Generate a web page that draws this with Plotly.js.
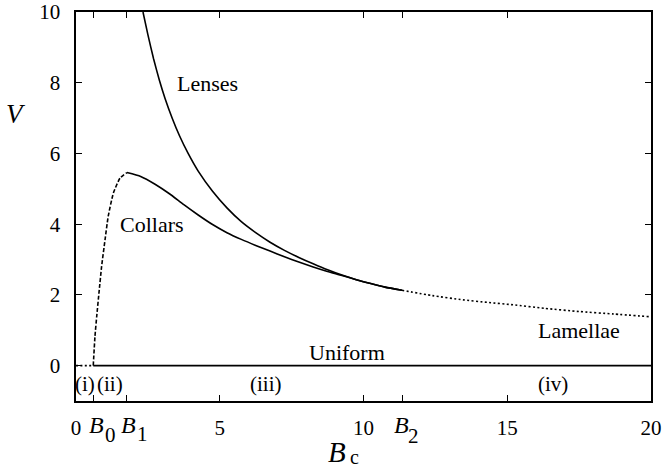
<!DOCTYPE html>
<html>
<head>
<meta charset="utf-8">
<script src="https://cdn.plot.ly/plotly-3.0.1.min.js"></script>
<style>html,body{margin:0;padding:0;background:#fff;}#chart{width:662px;height:471px;}</style>
</head>
<body>
<div id="chart"></div>
<script>
// Data
const lensesB = [2.33, 2.5, 2.7, 2.9, 3.1, 3.35, 3.6, 3.9, 4.25, 4.75, 5.25, 5.75, 6.25, 6.75, 7.25, 7.75, 8.25, 8.75, 9.25, 9.75, 10.25, 10.75, 11.34];
const lensesV = [10, 9.36, 8.67, 8.07, 7.55, 6.99, 6.5, 6.0, 5.5, 4.93, 4.46, 4.07, 3.76, 3.49, 3.26, 3.06, 2.88, 2.71, 2.56, 2.43, 2.32, 2.22, 2.13];

const collarsUnstableB = [0.6, 0.66, 0.72, 0.81, 0.89, 1.01, 1.12, 1.3, 1.53, 1.77];
const collarsUnstableV = [0, 0.83, 1.39, 2.15, 2.8, 3.56, 4.22, 4.88, 5.3, 5.46];

const collarsB = [1.77, 2.25, 2.75, 3.25, 3.75, 4.25, 4.75, 5.25, 5.75, 6.25, 6.75, 7.25, 7.75, 8.25, 8.75, 9.25, 9.75, 10.25, 10.75, 11.34];
const collarsV = [5.46, 5.35, 5.13, 4.86, 4.55, 4.26, 3.99, 3.76, 3.57, 3.4, 3.24, 3.08, 2.93, 2.79, 2.66, 2.55, 2.43, 2.32, 2.22, 2.13];

const lamellaeB = [11.34, 12.4, 13.46, 14.3, 15.2, 16.3, 17.5, 18.7, 20];
const lamellaeV = [2.13, 1.98, 1.86, 1.79, 1.72, 1.62, 1.53, 1.46, 1.38];

const uniformUnstableB = [0, 0.6];
const uniformUnstableV = [0, 0];
const uniformB = [0.6, 20];
const uniformV = [0, 0];

const B0 = 0.6, B1 = 1.77, B2 = 11.34;
const xTickVals = [0, B0, B1, 5, 10, B2, 15, 20];
const xTickText = ["0", "", "", "5", "10", "", "15", "20"];
const yTickVals = [0, 2, 4, 6, 8, 10];

const curveLabels = [
  {text: "Lenses", x: 4.57, y: 7.98},
  {text: "Collars", x: 2.63, y: 4.0},
  {text: "Uniform", x: 9.42, y: 0.38},
  {text: "Lamellae", x: 17.5, y: 1.0}
];
const regionLabels = [
  {text: "(i)", x: 0.31},
  {text: "(ii)", x: 1.18},
  {text: "(iii)", x: 6.6},
  {text: "(iv)", x: 16.6}
];

const FONT = "Liberation Serif";
const line = (dash) => ({color: "#000", width: 1.6, dash: dash, shape: "spline", smoothing: 0.5});

const traces = [
  {x: lensesB, y: lensesV, mode: "lines", line: line("solid"), name: "Lenses"},
  {x: collarsUnstableB, y: collarsUnstableV, mode: "lines", line: line("4px,2px"), name: "Collars (unstable)"},
  {x: collarsB, y: collarsV, mode: "lines", line: line("solid"), name: "Collars"},
  {x: lamellaeB, y: lamellaeV, mode: "lines", line: line("2px,2.4px"), name: "Lamellae"},
  {x: uniformUnstableB, y: uniformUnstableV, mode: "lines", line: {color: "#000", width: 1.6, dash: "2px,2.4px"}, name: "Uniform (unstable)"},
  {x: uniformB, y: uniformV, mode: "lines", line: {color: "#000", width: 1.8}, name: "Uniform"}
];

const annotations = [];
curveLabels.forEach(l => annotations.push({text: l.text, x: l.x, y: l.y, xref: "x", yref: "y", showarrow: false, font: {family: FONT, size: 22, color: "#000"}}));
regionLabels.forEach(l => annotations.push({text: l.text, x: l.x, y: -0.51, xref: "x", yref: "y", showarrow: false, font: {family: FONT, size: 21, color: "#000"}}));

// B_0, B_1, B_2 tick labels
const bLabels = [
  {v: B0, sub: "0", bs: 3, ss: 17, by: -24, sy: -33.5},
  {v: B1, sub: "1", bs: 2, ss: 15.6, by: -24, sy: -33},
  {v: B2, sub: "2", bs: -1, ss: 11.7, by: -24, sy: -35}
];
bLabels.forEach(b => {
  annotations.push({text: "<i>B</i>", x: b.v, y: 0, xref: "x", yref: "paper", xanchor: "center", yanchor: "middle", xshift: b.bs, yshift: b.by, showarrow: false, font: {family: FONT, size: 24, color: "#000"}});
  annotations.push({text: b.sub, x: b.v, y: 0, xref: "x", yref: "paper", xanchor: "center", yanchor: "middle", xshift: b.ss, yshift: b.sy, showarrow: false, font: {family: FONT, size: 21, color: "#000"}});
});
// axis titles
annotations.push({text: "<i>B</i>", x: 9.08, y: 0, xref: "x", yref: "paper", xanchor: "center", yanchor: "bottom", yshift: -69, showarrow: false, font: {family: FONT, size: 29, color: "#000"}});
annotations.push({text: "c", x: 9.67, y: 0, xref: "x", yref: "paper", xanchor: "center", yanchor: "bottom", yshift: -69, showarrow: false, font: {family: FONT, size: 20, color: "#000"}});
annotations.push({text: "<i>V</i>", x: 0, y: 7.12, xref: "paper", yref: "y", xanchor: "center", yanchor: "middle", xshift: -60, showarrow: false, font: {family: FONT, size: 27, color: "#000"}});

const layout = {
  width: 662, height: 471,
  margin: {l: 76, r: 11, t: 12, b: 70, pad: 0},
  paper_bgcolor: "#fff", plot_bgcolor: "#fff",
  showlegend: false,
  font: {family: FONT, size: 21, color: "#000"},
  xaxis: {
    range: [0, 20], tickmode: "array", tickvals: xTickVals, ticktext: xTickText,
    ticks: "inside", ticklen: 6, tickwidth: 1, tickcolor: "#000",
    showline: true, linecolor: "#000", linewidth: 1.6, mirror: "ticks",
    showgrid: false, zeroline: false, ticklabelstandoff: 7,
    tickfont: {family: FONT, size: 21, color: "#000"}
  },
  yaxis: {
    range: [-1, 10], tickmode: "array", tickvals: yTickVals,
    ticks: "inside", ticklen: 6, tickwidth: 1, tickcolor: "#000",
    showline: true, linecolor: "#000", linewidth: 1.6, mirror: "ticks",
    showgrid: false, zeroline: false, ticklabelstandoff: 10,
    tickfont: {family: FONT, size: 21, color: "#000"}
  },
  annotations: annotations
};

Plotly.newPlot("chart", traces, layout, {staticPlot: true, displayModeBar: false});
</script>
</body>
</html>
